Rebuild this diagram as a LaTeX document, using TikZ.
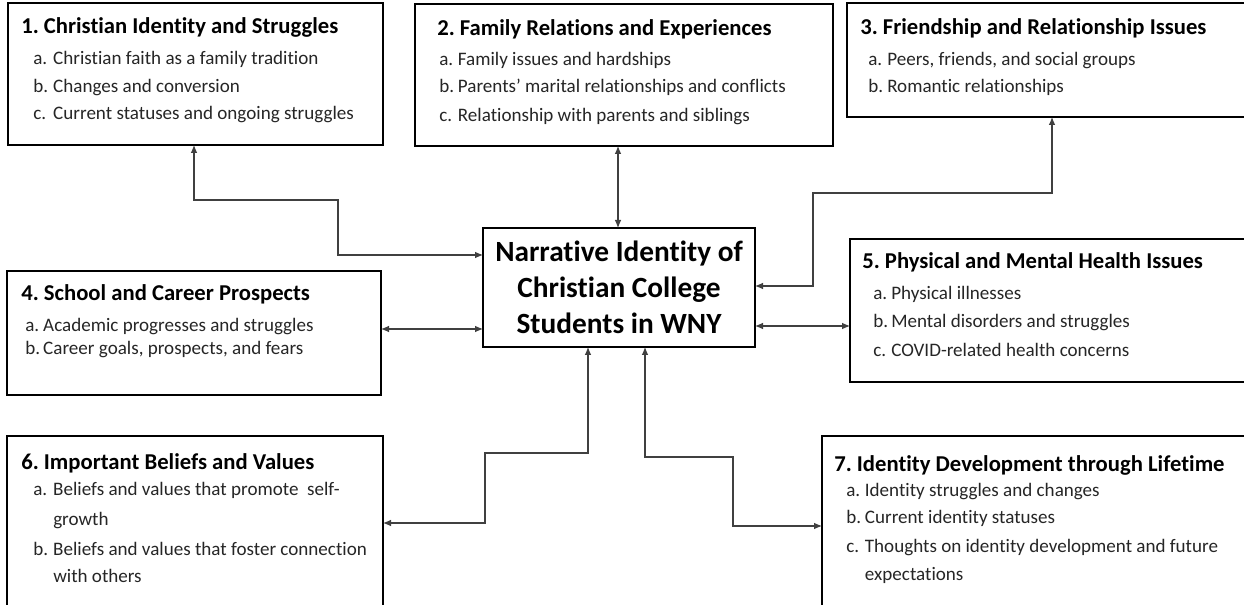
\documentclass[tikz,border=0pt]{standalone}
\usepackage{fontspec}
\setmainfont[Ligatures={NoCommon}]{Carlito}
\usetikzlibrary{arrows.meta}
\frenchspacing
\begin{document}
\begin{tikzpicture}[x=0.75pt,y=-0.75pt,
  box/.style={draw=black,line width=0.9pt,inner sep=0pt,outer sep=0pt,anchor=north west},
  ttl/.style={anchor=base west,inner sep=0pt,font=\fontsize{17}{20}\selectfont\bfseries,text=black},
  itm/.style={anchor=base west,inner sep=0pt,font=\fontsize{14.3}{17}\selectfont,text=black!85},
  con/.style={draw=black!75,line width=0.8pt,{Latex[length=6pt,width=5pt]}-{Latex[length=6pt,width=5pt]}}]
\newcommand\lab[2]{\makebox[#1][l]{#2}}
\path[use as bounding box] (0,0) rectangle (1244,605);
\clip (0,0) rectangle (1244,605);
\fill[white] (0,0) rectangle (1244,605);
% boxes
\node[box,minimum width=281.25pt,minimum height=106.5pt] (b1) at (8,3) {};
\node[box,minimum width=313.5pt,minimum height=106.5pt] (b2) at (415,4) {};
\node[box,minimum width=309.75pt,minimum height=85.5pt] (b3) at (847,3) {};
\node[box,minimum width=280.5pt,minimum height=93pt] (b4) at (7,271) {};
\node[box,minimum width=307.5pt,minimum height=107.25pt] (b5) at (850,239) {};
\node[box,minimum width=282pt,minimum height=138pt] (b6) at (7,436) {};
\node[box,minimum width=328.5pt,minimum height=138pt] (b7) at (822,436) {};
\node[box,anchor=center,minimum width=204pt,minimum height=89.25pt,align=center,
  font=\fontsize{22}{27}\selectfont\bfseries] (c) at (619,287.5)
  {Narrative Identity of\\Christian College\\Students in WNY};
% box 1
\node[ttl] (t1) at (21,34) {1. Christian Identity and Struggles};
\node[itm] (t1a) at (33,65) {\lab{15pt}{a.}Christian faith as a family tradition};
\node[itm] (t1b) at (33,93) {\lab{15pt}{b.}Changes and conversion};
\node[itm] (t1c) at (33,120) {\lab{15pt}{c.}Current statuses and ongoing struggles};
% box 2
\node[ttl] (t2) at (437,36) {2. Family Relations and Experiences};
\node[itm] (t2a) at (439,66) {\lab{14pt}{a.}Family issues and hardships};
\node[itm] (t2b) at (439,93) {\lab{14pt}{b.}Parents’ marital relationships and conflicts};
\node[itm] (t2c) at (439,122) {\lab{14pt}{c.}Relationship with parents and siblings};
% box 3
\node[ttl] (t3) at (860,35) {3. Friendship and Relationship Issues};
\node[itm] (t3a) at (868,66) {\lab{14.25pt}{a.}Peers, friends, and social groups};
\node[itm] (t3b) at (868,93) {\lab{14.25pt}{b.}Romantic relationships};
% box 4
\node[ttl] (t4) at (21,301) {4. School and Career Prospects};
\node[itm] (t4a) at (25,332) {\lab{13.5pt}{a.}Academic progresses and struggles};
\node[itm] (t4b) at (25,355) {\lab{13.5pt}{b.}Career goals, prospects, and fears};
% box 5
\node[ttl] (t5) at (862,269) {5. Physical and Mental Health Issues};
\node[itm] (t5a) at (873,300) {\lab{13.5pt}{a.}Physical illnesses};
\node[itm] (t5b) at (873,328) {\lab{13.5pt}{b.}Mental disorders and struggles};
\node[itm] (t5c) at (873,357) {\lab{13.5pt}{c.}COVID-related health concerns};
% box 6
\node[ttl] (t6) at (21,469) {6. Important Beliefs and Values};
\node[itm] (t6a) at (33,495) {\lab{15pt}{a.}Beliefs and values that promote\ \ self-};
\node[itm] (t6a2) at (53,525) {growth};
\node[itm] (t6b) at (33,555) {\lab{15pt}{b.}Beliefs and values that foster connection};
\node[itm] (t6b2) at (53,582) {with others};
% box 7
\node[ttl] (t7) at (834,471) {7. Identity Development through Lifetime};
\node[itm] (t7a) at (846,496) {\lab{14pt}{a.}Identity struggles and changes};
\node[itm] (t7b) at (846,523) {\lab{14pt}{b.}Current identity statuses};
\node[itm] (t7c) at (846,552) {\lab{14pt}{c.}Thoughts on identity development and future};
\node[itm] (t7c2) at (864.7,580) {expectations};
% bend points
\coordinate (k1a) at (194,200); \coordinate (k1b) at (338,255);
\coordinate (k2) at (618,0);
\coordinate (k3a) at (813,286); \coordinate (k3b) at (1052,193);
\coordinate (k4) at (0,329);
\coordinate (k5) at (0,326);
\coordinate (k6a) at (588,453); \coordinate (k6b) at (485,523);
\coordinate (k7a) at (645,457); \coordinate (k7b) at (733,526);
% connectors
\draw[con] (b1.south -| k1a) -- (k1a) -| (k1b) -- (c.west |- k1b);
\draw[con] (b2.south -| k2) -- (c.north -| k2);
\draw[con] (c.east |- k3a) -- (k3a) |- (k3b) -- (b3.south -| k3b);
\draw[con] (b4.east |- k4) -- (c.west |- k4);
\draw[con] (c.east |- k5) -- (b5.west |- k5);
\draw[con] (c.south -| k6a) -- (k6a) -| (k6b) -- (b6.east |- k6b);
\draw[con] (c.south -| k7a) -- (k7a) -| (k7b) -- (b7.west |- k7b);
\end{tikzpicture}
\end{document}
